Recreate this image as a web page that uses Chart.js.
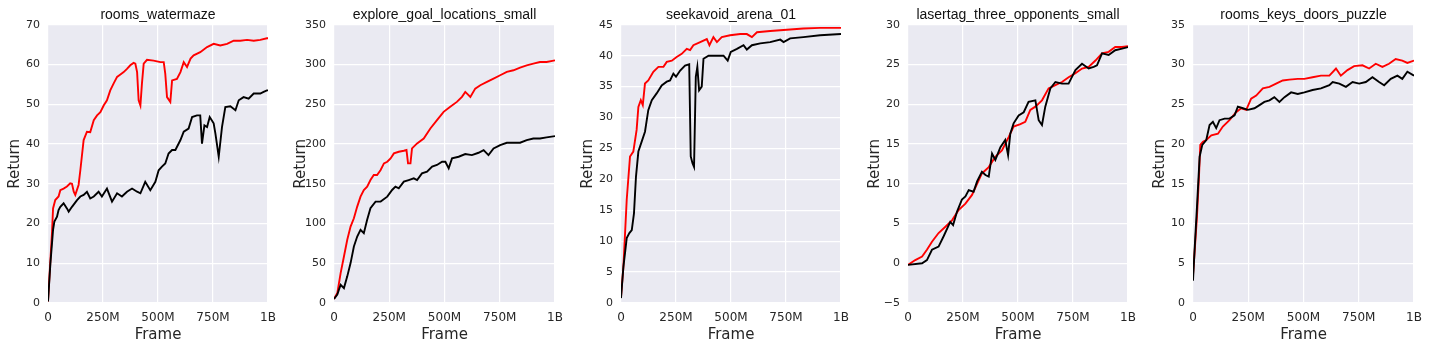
<!DOCTYPE html>
<html>
<head>
<meta charset="utf-8">
<script src="https://cdn.jsdelivr.net/npm/chart.js@4"></script>
<style>
  body { margin: 0; background: #fff; }
  #wrap { position: relative; width: 1429px; height: 351px; }
  canvas { position: absolute; top: 0; }
</style>
</head>
<body>
<div id="wrap"></div>
<script>
// frames in millions, returns
const titles = ['rooms_watermaze', 'explore_goal_locations_small', 'seekavoid_arena_01',
  'lasertag_three_opponents_small', 'rooms_keys_doors_puzzle'];
const xTicks = [0, 250, 500, 750, 1000];

const watermazeRedX = [0,18,23,33,48,56,71,86,101,109,117,124,139,147,162,177,192,208,223,238,253,268,283,298,314,329,344,359,374,389,397,405,412,420,427,435,450,480,511,526,533,541,556,564,586,602,617,632,648,662,692,723,753,783,814,844,874,905,935,965,995,1000];
const watermazeRedY = [0.4,17.5,23.8,25.9,26.8,28.4,28.8,29.3,30.1,30,28,27.2,29.7,33.4,41,43.1,43,46,47.2,48,49.7,51,53.5,55.2,56.9,57.5,58.1,58.9,59.8,60.4,60.2,58.1,51,49.7,55.2,60.2,61.2,61,60.6,60.6,57.7,51.8,50.6,56,56.4,58.1,60.6,59.4,61.5,62.3,63.1,64.4,65.2,64.8,65.2,66,66,66.2,66,66.2,66.6,66.6];
const watermazeBlackX = [0,11,23,29,41,48,56,71,86,94,109,132,147,162,177,192,208,230,245,268,291,314,336,359,382,405,420,442,465,488,503,518,533,548,564,579,602,617,639,655,677,692,700,711,723,735,753,761,776,791,806,829,852,867,889,912,935,965,980,995,1000];
const watermazeBlackY = [0.4,10,18.4,20.5,21.7,23.4,24.2,25.1,23.8,23,24.2,25.9,26.8,27.2,28,26.3,26.8,28,26.8,28.8,25.5,27.6,26.8,28,28.8,28,27.6,30.5,28.4,30.5,33.4,34.3,35.1,37.6,38.5,38.5,41,43.1,43.9,46.8,47.2,47.2,40.1,44.7,44.3,46.8,45.2,42.6,36.8,44.3,49.3,49.5,48.5,51,51.8,51.4,52.7,52.7,53.1,53.5,53.5];

const exploreRedX = [0,15,30,45,60,75,90,105,120,135,150,165,180,195,211,226,241,256,271,293,316,328,335,346,353,376,406,436,466,496,526,556,579,594,617,639,662,692,722,752,782,812,842,872,902,932,962,1000];
const exploreRedY = [5,12.5,37.6,58.5,79.5,96.2,106.6,121.3,133.8,142.2,146.4,154.7,161,161,167.3,175.7,177.7,181.9,188.2,190.3,191.5,192.4,175.7,175.7,194.5,200.8,207,219.6,230,240.5,246.8,253,259.3,265.6,259.3,269.7,274,278.1,282.3,286.5,290.7,292.8,296.1,299,301.1,303.2,303.2,305.3];
const exploreBlackX = [0,15,30,45,60,75,90,105,120,135,150,165,188,211,241,263,278,293,316,338,361,376,398,421,444,466,489,504,519,534,564,594,624,654,677,699,722,752,782,812,842,872,902,932,962,1000];
const exploreBlackY = [5,10.5,23,18.8,33.5,50.2,71.1,83.6,92,87.8,104.6,119.2,127.6,127.6,133.8,142.2,146.4,144.3,152.7,154.7,156.8,154.7,163.1,165.2,171.5,173.6,177.7,177.7,169.4,181.9,184,187.4,186.1,189,192.4,186.1,194.5,198.7,201.6,201.6,201.6,204.9,207,207,208.3,210];

const seekRedX = [0,11,26,41,56,71,79,90,99,109,124,147,170,193,208,231,253,276,299,314,329,360,390,402,420,436,458,496,542,572,595,618,678,754,829,905,1000];
const seekRedY = [1,5.9,16.7,23.7,24.5,28,31.7,32.8,32,35.5,36,37.4,38.2,38.2,39,39.2,39.8,40.3,41.1,40.9,41.7,42.2,42.7,41.7,43,42.2,43,43.3,43.5,43.5,43,43.8,44,44.2,44.4,44.5,44.5];
const seekBlackX = [0,11,18,26,38,49,59,68,79,94,109,124,140,162,185,208,223,238,250,269,291,310,317,325,332,340,347,355,367,375,398,420,443,466,485,499,527,557,572,595,633,678,724,739,769,829,905,1000];
const seekBlackY = [0.8,5.9,8,10.5,11.3,11.8,14.5,20.4,24.5,26.1,27.7,31.2,32.8,33.9,35.2,35.8,36,37.1,36.6,37.6,38.4,38.6,23.7,22.6,22,36.6,38.2,34.4,35,39.5,40,40,40,40,39.2,40.6,41.1,41.7,41,41.7,42,42.2,42.6,42.2,42.8,43,43.3,43.5];

const lasertagRedX = [0,33,64,86,109,139,170,200,230,261,291,314,336,367,397,427,458,480,511,533,556,579,609,639,670,700,730,761,791,821,852,882,912,942,973,1000];
const lasertagRedY = [-0.2,0.4,0.85,1.7,2.7,3.8,4.6,5.4,6.7,7.5,8.6,10,11.3,12.1,13.4,14.2,15.9,17.2,17.5,17.8,19.3,19.7,20.5,22,22.4,22.8,23.4,23.9,24.5,24.7,25.5,26.4,26.6,27.2,27.2,27.3];
const lasertagBlackX = [0,64,86,109,139,162,192,205,223,245,261,276,298,314,336,352,367,382,397,420,442,455,465,480,503,526,548,579,594,609,624,647,670,700,730,761,791,821,844,859,882,912,942,973,1000];
const lasertagBlackY = [-0.2,0,0.4,1.7,2.1,3.4,5.2,4.8,6.5,8,8.4,9.2,9,10.3,11.5,11.1,10.9,13.8,13,14.6,15.5,13.6,16.3,17.6,18.6,19,20.3,20.5,18,17.4,19.7,22,22.8,22.6,22.6,24.3,25.1,24.5,24.7,24.9,26.4,26.2,26.8,27,27.2];

const keysRedX = [0,8,18,27,33,45,60,83,113,135,165,195,218,241,263,286,316,346,376,406,436,474,504,541,579,617,647,669,699,729,767,797,827,857,887,917,947,970,1000];
const keysRedY = [3.5,6.7,10.9,15.9,19.9,20.3,20.5,21.1,21.3,22.2,23,24,24.5,24.3,25.7,26.1,27,27.2,27.6,28,28.1,28.2,28.2,28.4,28.6,28.6,29.5,28.6,29.3,29.8,29.9,29.5,30.1,29.7,30.1,30.7,30.5,30.2,30.5];
const keysBlackX = [0,8,18,30,42,60,75,90,105,120,143,165,188,203,226,248,278,301,323,346,368,391,414,444,474,504,541,579,617,632,662,692,722,752,782,812,842,865,895,925,947,970,1000];
const keysBlackY = [2.8,7.1,12.1,18.4,19.9,20.5,22.4,22.8,22,23,23.2,23.2,23.6,24.7,24.5,24.3,24.5,24.9,25.3,25.5,25.9,25.3,25.9,26.5,26.3,26.5,26.8,27,27.4,27.8,27.6,27.2,27.8,27.6,27.8,28.4,27.8,27.4,28.2,28.6,28.2,29.1,28.6];

const yMin = [0, 0, 0, -5, 0];
const yMax = [70, 350, 45, 30, 35];
const yStep = [10, 50, 5, 5, 5];

const redX = [watermazeRedX, exploreRedX, seekRedX, lasertagRedX, keysRedX];
const redY = [watermazeRedY, exploreRedY, seekRedY, lasertagRedY, keysRedY];
const blackX = [watermazeBlackX, exploreBlackX, seekBlackX, lasertagBlackX, keysBlackX];
const blackY = [watermazeBlackY, exploreBlackY, seekBlackY, lasertagBlackY, keysBlackY];

// plot area left edge and width in the page
const plotLeft = [48, 334, 621, 908, 1193];
const plotWidth = [220, 221, 220, 220, 221];

function pts(xs, ys) {
  return xs.map((x, i) => ({ x: x, y: ys[i] }));
}

const bgPlugin = {
  id: 'bg',
  beforeDraw(chart) {
    const a = chart.chartArea;
    const ctx = chart.ctx;
    ctx.save();
    ctx.fillStyle = '#EAEAF2';
    ctx.fillRect(a.left, a.top, a.right - a.left, a.bottom - a.top);
    ctx.restore();
  }
};

const wrap = document.getElementById('wrap');
const yTickFont = { family: 'DejaVu Sans', size: 11 };
const xTickFont = { family: 'DejaVu Sans', size: 12 };
const labelFont = { family: 'DejaVu Sans', size: 15 };

for (let i = 0; i < 5; i++) {
  const c = document.createElement('canvas');
  const w = 48 + plotWidth[i] + 10;
  c.width = w;
  c.height = 351;
  c.style.left = (plotLeft[i] - 48) + 'px';
  c.style.width = w + 'px';
  c.style.height = '351px';
  wrap.appendChild(c);

  new Chart(c, {
    type: 'line',
    data: {
      datasets: [
        { data: pts(blackX[i], blackY[i]), borderColor: '#000', borderWidth: 1.9, pointRadius: 0, tension: 0 },
        { data: pts(redX[i], redY[i]), borderColor: '#ff0000', borderWidth: 1.9, pointRadius: 0, tension: 0 }
      ]
    },
    options: {
      responsive: false,
      animation: false,
      layout: { padding: { left: 0, right: 10, top: 0, bottom: 0 } },
      plugins: {
        legend: { display: false },
        tooltip: { enabled: false },
        title: {
          display: true,
          fullSize: false,
          text: titles[i],
          color: '#111',
          font: { family: 'Liberation Sans', size: 14, weight: 'normal' },
          padding: { top: 7, bottom: 1 }
        }
      },
      scales: {
        x: {
          type: 'linear',
          min: 0,
          max: 1000,
          afterFit: s => { s.height = 48; s.paddingLeft = 0; s.paddingRight = 0; },
          afterBuildTicks: s => { s.ticks = xTicks.map(v => ({ value: v })); },
          grid: { color: '#fff', lineWidth: 1.2, drawTicks: false },
          border: { display: false },
          ticks: {
            color: '#262626',
            font: xTickFont,
            padding: 8,
            maxRotation: 0,
            callback: v => v === 0 ? '0' : (v === 1000 ? '1B' : v + 'M')
          },
          title: { display: true, text: 'Frame', color: '#262626', font: labelFont, padding: { top: 0, bottom: 7 } }
        },
        y: {
          min: yMin[i],
          max: yMax[i],
          afterFit: s => { s.width = 48; s.paddingTop = 0; s.paddingBottom = 0; },
          grid: { color: '#fff', lineWidth: 1.2, drawTicks: false },
          border: { display: false },
          ticks: {
            color: '#262626',
            font: yTickFont,
            padding: 8,
            stepSize: yStep[i],
            callback: v => String(v).replace('-', '\u2212')
          },
          title: { display: true, text: 'Return', color: '#262626', font: labelFont, padding: { top: 6, bottom: 0 } }
        }
      }
    },
    plugins: [bgPlugin]
  });
}
</script>
</body>
</html>
